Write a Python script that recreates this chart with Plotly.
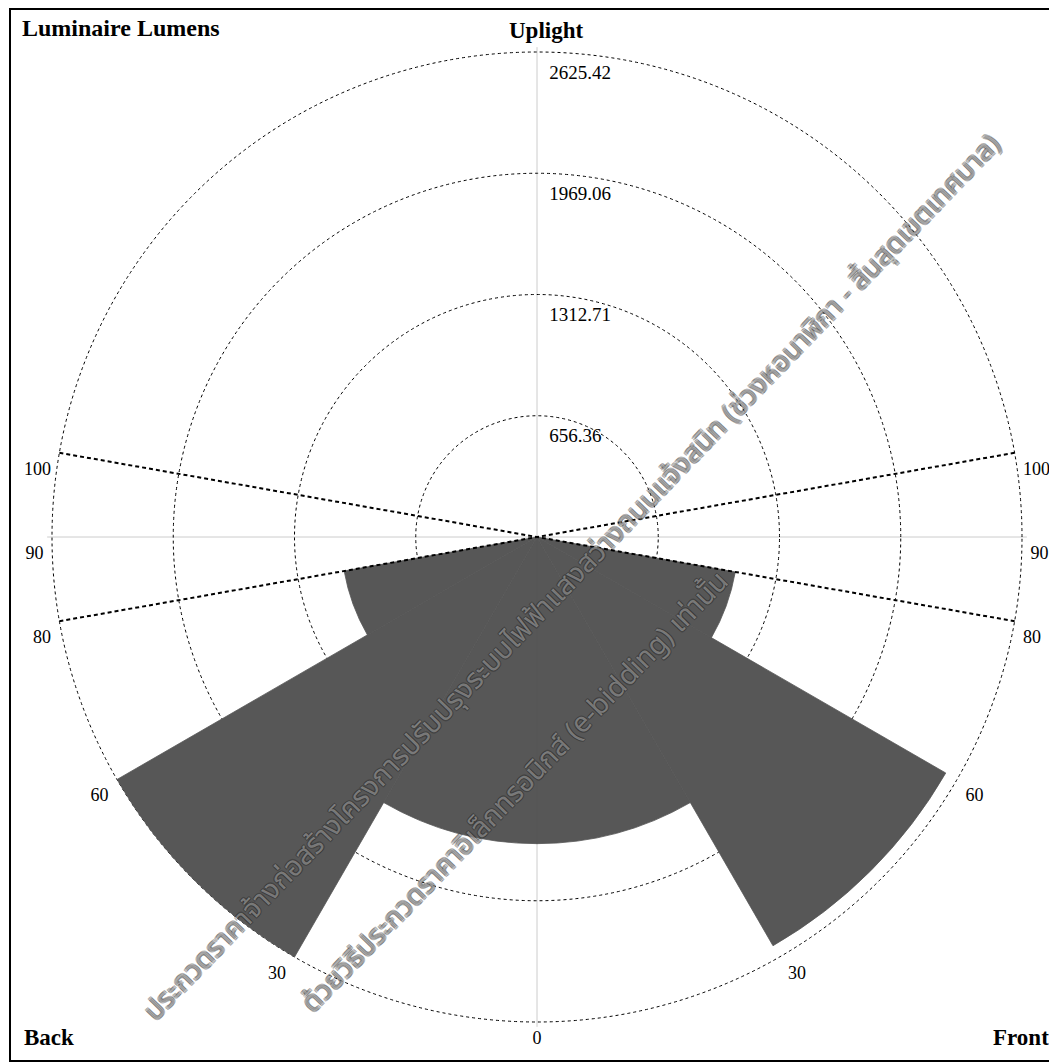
import plotly.graph_objects as go

# ---------------- data (angles in degrees from nadir, 0 = straight down) ----------------
zone_labels = ["BL", "BM", "BH", "BVH", "FL", "FM", "FH", "FVH", "UL", "UH"]
zone_side = ["back", "back", "back", "back", "front", "front", "front", "front", "up", "up"]
zone_from = [0, 30, 60, 80, 0, 30, 60, 80, 90, 100]
zone_to = [30, 60, 80, 90, 30, 60, 80, 90, 100, 180]
zone_lumens = [1660, 2625, 1060, 0, 1660, 2555, 1090, 0, 0, 0]

radial_ticks = [656.36, 1312.71, 1969.06, 2625.42]
radial_tick_labels = ["656.36", "1312.71", "1969.06", "2625.42"]

front_tick_angles = [0, 30, 60, 80, 90, 100]
back_tick_angles = [30, 60, 80, 90, 100]

watermark_line1 = "ประกวดราคาจ้างก่อสร้างโครงการปรับปรุงระบบไฟฟ้าแสงสว่างถนนแจ้งสนิท (ช่วงหอนาฬิกา - สิ้นสุดเขตเทศบาล)"
watermark_line2 = "ด้วยวิธีประกวดราคาอิเล็กทรอนิกส์ (e-bidding) เท่านั้น"

# ---------------- figure ----------------
OFF = 8                      # page body margin
W, H = 1057 - OFF, 1064 - OFF
R = radial_ticks[-1]
SERIF = "Liberation Serif, Times New Roman, serif"


def px(x):
    return (x - OFF) / W


def py(y):
    return 1 - (y - OFF) / H


def plot_theta(angle, side):
    # front side runs counterclockwise from the bottom (to the right),
    # back side runs clockwise from the bottom (to the left)
    return angle if side == "front" else 360 - angle


fig = go.Figure()

# dotted 80 / 100 degree reference lines through the centre
for a_front, a_back in [(100, 80), (80, 100)]:
    fig.add_trace(go.Scatterpolar(
        r=[R, 0, R],
        theta=[plot_theta(a_front, "front"), 0, plot_theta(a_back, "back")],
        mode="lines",
        line=dict(color="black", width=2, dash="4px,3px"),
        hoverinfo="skip", showlegend=False,
    ))

# zone bars
bar_theta, bar_width, bar_r, bar_names = [], [], [], []
for name, side, f, t, v in zip(zone_labels, zone_side, zone_from, zone_to, zone_lumens):
    sides = ["front", "back"] if side == "up" else [side]
    for s in sides:
        bar_theta.append(plot_theta((f + t) / 2, s))
        bar_width.append(t - f)
        bar_r.append(v)
        bar_names.append(name)

BAR_COLOR = "#575757"
fig.add_trace(go.Barpolar(
    r=bar_r, theta=bar_theta, width=bar_width, text=bar_names,
    marker=dict(color=BAR_COLOR, line=dict(width=0.8, color=BAR_COLOR)),
    hovertemplate="%{text}: %{r}<extra></extra>",
    showlegend=False,
))

# radial tick labels (right of the vertical axis, just below each circle)
fig.add_trace(go.Scatterpolar(
    r=radial_ticks, theta=[180] * len(radial_ticks),
    mode="markers+text", text=radial_tick_labels, textposition="bottom right",
    marker=dict(size=18, color="rgba(0,0,0,0)"),
    textfont=dict(family=SERIF, size=19, color="black"),
    hoverinfo="skip", showlegend=False, cliponaxis=False,
))

# angular tick labels, just outside the outer circle
lab_theta, lab_text, lab_pos = [], [], []
for a in front_tick_angles:
    lab_theta.append(plot_theta(a, "front"))
    lab_text.append(str(a))
    lab_pos.append("bottom center" if a == 0 else "bottom right")
for a in back_tick_angles:
    lab_theta.append(plot_theta(a, "back"))
    lab_text.append(str(a))
    lab_pos.append("bottom left")

fig.add_trace(go.Scatterpolar(
    r=[R] * len(lab_theta), theta=lab_theta, mode="markers+text", text=lab_text,
    textposition=lab_pos,
    marker=dict(size=12, color="rgba(0,0,0,0)"),
    textfont=dict(family=SERIF, size=18, color="black"),
    hoverinfo="skip", showlegend=False, cliponaxis=False,
))

RANGE_PAD = 1.01
cx, cy, rad = 537, 537, 485 * RANGE_PAD
fig.update_layout(
    width=W, height=H,
    margin=dict(l=0, r=0, t=0, b=0),
    paper_bgcolor="white",
    showlegend=False,
    polar=dict(
        domain=dict(x=[px(cx - rad), px(cx + rad)], y=[py(cy + rad), py(cy - rad)]),
        bgcolor="white",
        radialaxis=dict(
            range=[0, R * RANGE_PAD], tickvals=radial_ticks, showticklabels=False,
            ticks="", showline=False, showgrid=True,
            gridcolor="black", gridwidth=1.4, griddash="dot",
        ),
        angularaxis=dict(
            rotation=270, direction="counterclockwise",
            tickvals=[0, 90, 180, 270], showticklabels=False, ticks="",
            showline=False, showgrid=True, gridcolor="#cccccc", gridwidth=1,
        ),
    ),
    shapes=[dict(type="rect", xref="paper", yref="paper",
                 x0=px(10), x1=px(1070), y0=py(1061), y1=py(9),
                 line=dict(color="black", width=2), fillcolor="rgba(0,0,0,0)")],
)

ann_font = dict(family=SERIF, size=23, color="black")
fig.add_annotation(text="<b>Luminaire Lumens</b>", x=px(20), y=py(28), xref="paper", yref="paper",
                   xanchor="left", yanchor="middle", showarrow=False,
                   font=dict(family=SERIF, size=24, color="black"))
fig.add_annotation(text="<b>Uplight</b>", x=px(546), y=py(30), xref="paper", yref="paper",
                   xanchor="center", yanchor="middle", showarrow=False, font=ann_font)
fig.add_annotation(text="<b>Back</b>", x=px(22), y=py(1037), xref="paper", yref="paper",
                   xanchor="left", yanchor="middle", showarrow=False, font=ann_font)
fig.add_annotation(text="<b>Front</b>", x=px(1051), y=py(1037), xref="paper", yref="paper",
                   xanchor="right", yanchor="middle", showarrow=False, font=ann_font)

# diagonal watermark (outlined text)
wm_font = dict(family="Noto Sans Thai, Garuda, Loma, Norasi, Tlwg Typo, sans-serif", size=28,
               color="rgba(255,255,255,0.35)",
               shadow="-1px -1px 0 #222, 1px -1px 0 #222, -1px 1px 0 #222, 1px 1px 0 #222")
fig.add_annotation(text=watermark_line1, x=px(572), y=py(578), xref="paper", yref="paper",
                   xanchor="center", yanchor="middle", showarrow=False, textangle=-46, font=wm_font)
fig.add_annotation(text=watermark_line2, x=px(515), y=py(792), xref="paper", yref="paper",
                   xanchor="center", yanchor="middle", showarrow=False, textangle=-46, font=wm_font)

fig.write_html("out.html")
